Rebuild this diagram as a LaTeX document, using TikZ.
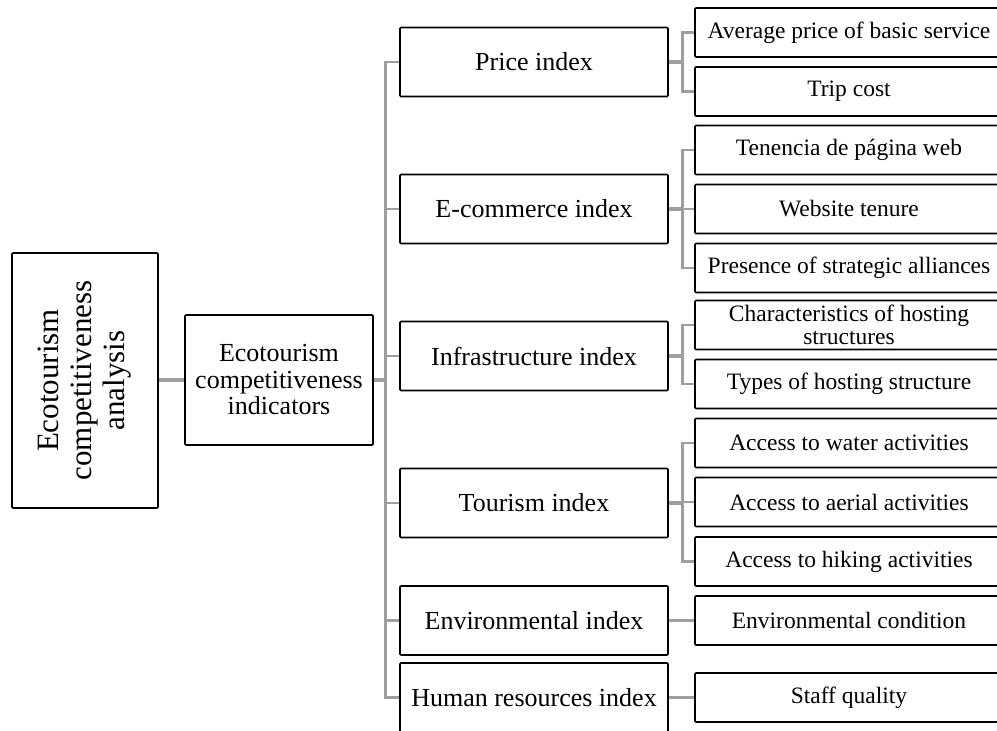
\documentclass[tikz,border=0pt]{standalone}
\usepackage{fontspec}
\setmainfont{Liberation Serif}
\usetikzlibrary{positioning,calc}
\definecolor{linkgray}{RGB}{158,158,158}

\tikzset{
    box/.style={draw, line width=1.6pt, rounded corners=1pt, align=center, inner sep=2pt},
    rootbox/.style={box, rotate=90, minimum width=255pt, minimum height=146pt, font=\fontsize{31}{33}\selectfont},
    midbox/.style={box, minimum width=188pt, minimum height=130pt, font=\fontsize{26}{26.5}\selectfont},
    idxbox/.style={box, minimum width=268pt, minimum height=69pt, font=\fontsize{26}{28}\selectfont},
    leafbox/.style={box, minimum width=308pt, minimum height=49pt, font=\fontsize{23.5}{23}\selectfont},
    link/.style={draw=linkgray, line width=2.6pt},
    stub/.style={draw=linkgray, line width=3.8pt},
}

\begin{document}
\begin{tikzpicture}[x=1pt, y=-1pt]
    \useasboundingbox (0,0) rectangle (997,731);
    \clip (0,0) rectangle (997,731);

    % Root and indicators
    \node[rootbox] (root) at (85,380.5) {Ecotourism\\competitiveness\\analysis};
    \node[midbox] (ind) at (279,380) {Ecotourism\\competitiveness\\indicators};

    % Indices
    \node[idxbox] (price) at (534,62) {Price index};
    \node[idxbox] (ecom) at (534,209) {E-commerce index};
    \node[idxbox] (infra) at (534,356) {Infrastructure index};
    \node[idxbox] (tour) at (534,503) {Tourism index};
    \node[idxbox] (env) at (534,620.5) {Environmental index};
    \node[idxbox] (human) at (534,697.5) {Human resources index};

    % Variables
    \node[leafbox] (avg) at (849,32.5) {Average price of basic service};
    \node[leafbox] (trip) at (849,91.5) {Trip cost};
    \node[leafbox] (web) at (849,150) {Tenencia de página web};
    \node[leafbox] (tenure) at (849,209) {Website tenure};
    \node[leafbox] (allian) at (849,268) {Presence of strategic alliances};
    \node[leafbox] (charac) at (849,325) {Characteristics of hosting\\structures};
    \node[leafbox] (types) at (849,384) {Types of hosting structure};
    \node[leafbox] (water) at (849,443) {Access to water activities};
    \node[leafbox] (aerial) at (849,502) {Access to aerial activities};
    \node[leafbox] (hiking) at (849,561.5) {Access to hiking activities};
    \node[leafbox] (envcond) at (849,620.5) {Environmental condition};
    \node[leafbox] (staff) at (849,697.5) {Staff quality};

    % Trunk
    \draw[stub] (root.south |- ind.west) -- (ind.west);
    \foreach \i in {price,ecom,infra,tour,env,human}
        \draw[link] (\i.west) -- ++(-14,0) |- (ind.east);
    \draw[stub] (ind.east) -- ++(13,0);

    % Branches
    \foreach \i/\j in {price/avg, price/trip, ecom/web, ecom/tenure, ecom/allian,
                       infra/charac, infra/types, tour/water, tour/aerial, tour/hiking}
        \draw[link] (\j.west) -- ++(-12,0) |- (\i.east);
    \foreach \i in {price,ecom,infra,tour}
        \draw[stub] (\i.east) -- ++(14,0);
    \draw[stub] (env) -- (envcond);
    \draw[stub] (human) -- (staff);
\end{tikzpicture}
\end{document}
